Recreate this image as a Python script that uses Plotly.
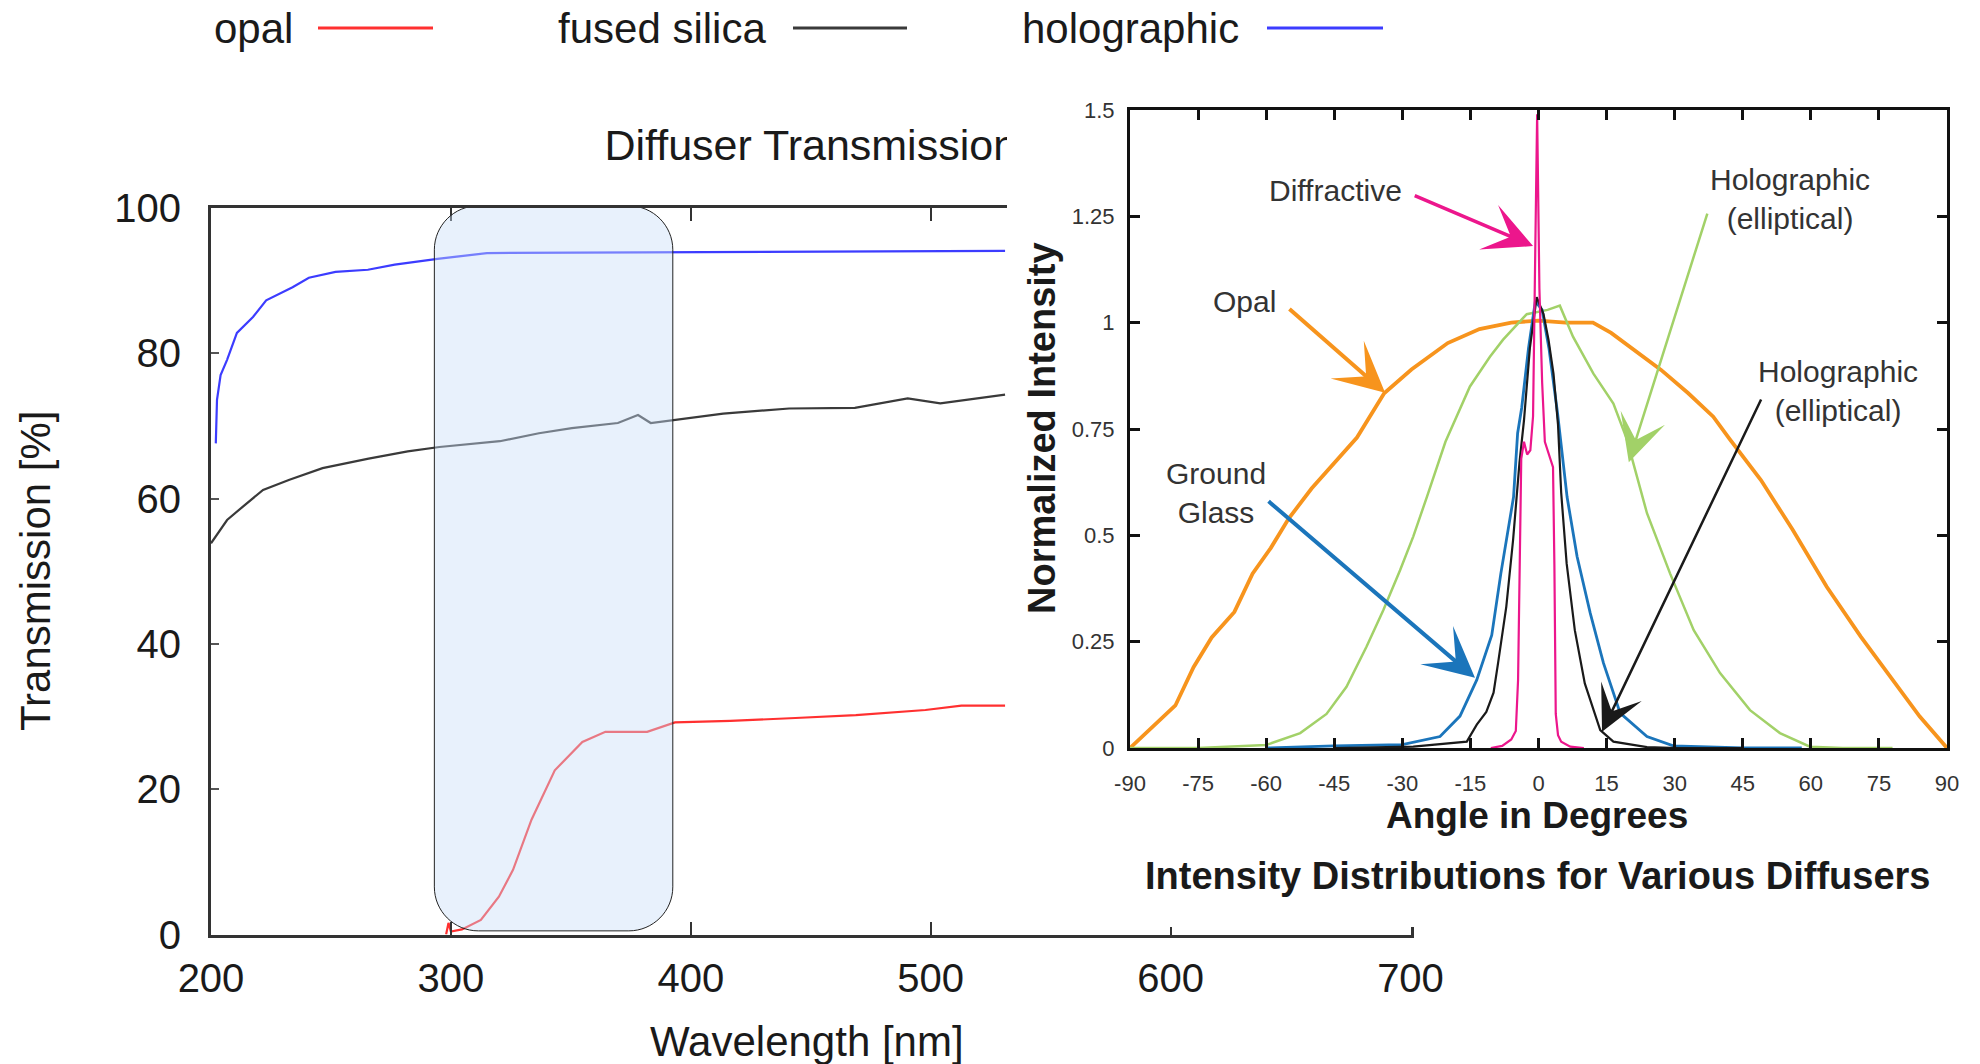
import plotly.graph_objects as go

# ---------------- data: left chart (Diffuser Transmission) ----------------
opal_wl = [298, 299, 300, 304.6, 312.5, 320, 325.9, 333.6, 343.3, 354.8, 364.4, 381.8, 393.4, 416.5, 443.6, 468.8, 497.8, 512.8, 531]
opal_tr = [0.0, 1.6, 0.4, 0.7, 2.0, 5.2, 8.9, 15.8, 22.6, 26.5, 27.9, 27.9, 29.2, 29.4, 29.8, 30.2, 30.9, 31.5, 31.5]

silica_wl = [200, 206.7, 213.3, 221.7, 232.7, 246.5, 265.7, 282, 295.2, 320.4, 336.7, 350.4, 369.6, 378, 383.3, 395.8, 413.5, 441, 468.4, 490.4, 504, 531]
silica_tr = [53.85, 57.05, 58.9, 61.2, 62.6, 64.2, 65.5, 66.5, 67.1, 67.9, 69.0, 69.7, 70.4, 71.5, 70.4, 70.9, 71.7, 72.4, 72.5, 73.8, 73.1, 74.3]

holo_wl = [202, 202.5, 204, 206.7, 210.8, 217.5, 223, 234, 240.8, 251.9, 265.4, 276.6, 294.4, 304, 315, 380, 439.6, 531]
holo_tr = [67.6, 73.6, 77.0, 79.1, 82.8, 85.0, 87.3, 89.1, 90.4, 91.2, 91.5, 92.2, 93.0, 93.4, 93.8, 93.9, 94.0, 94.1]

series_names = ["opal", "fused silica", "holographic"]
series_colors = ["#ff3030", "#3a3a3a", "#3c3cff"]

left_title = "Diffuser Transmission"
highlight_wl = [293.1, 392.5]     # shaded UV band
highlight_tr = [0.5, 100.3]

# ---------------- data: inset (Intensity Distributions) ----------------
opal_ang = [-90, -85, -80, -76, -72, -67, -63, -59, -55, -50, -45, -40, -34, -28, -20, -13, -6, 0, 6, 12, 16, 21, 27, 33, 38.5, 42, 49, 56, 63.5, 71, 78, 84, 90]
opal_int = [0, 0.05, 0.10, 0.19, 0.26, 0.32, 0.41, 0.47, 0.54, 0.61, 0.67, 0.73, 0.834, 0.89, 0.952, 0.985, 1.0, 1.005, 1.0, 1.0, 0.976, 0.936, 0.889, 0.834, 0.779, 0.728, 0.63, 0.513, 0.379, 0.262, 0.16, 0.074, 0.0]

holoE_ang = [-90, -75, -60, -52.5, -46.7, -42.3, -37.9, -34.2, -30.5, -27.6, -24.6, -20.5, -15.1, -10.7, -7.8, -2.6, 2, 4.7, 7.6, 12.1, 16.5, 19.4, 23.9, 29.0, 34.2, 40.0, 46.6, 53.2, 59.8, 67, 78]
holoE_int = [0, 0.0, 0.007, 0.035, 0.08, 0.144, 0.238, 0.324, 0.418, 0.497, 0.59, 0.72, 0.85, 0.92, 0.96, 1.02, 1.03, 1.04, 0.967, 0.88, 0.81, 0.728, 0.552, 0.41, 0.277, 0.176, 0.089, 0.035, 0.003, 0.0, 0]

ground_ang = [-60, -45, -30, -21.7, -17.3, -13.6, -10.3, -8.3, -5.5, -4.6, -3.7, -2.2, -0.7, 0.8, 2.3, 4.2, 6.3, 8.5, 11.4, 14.3, 18.0, 23.9, 29.7, 45, 58]
ground_int = [0, 0.005, 0.008, 0.027, 0.075, 0.16, 0.265, 0.41, 0.59, 0.74, 0.80, 0.94, 1.05, 1.03, 0.94, 0.787, 0.59, 0.45, 0.317, 0.2, 0.082, 0.027, 0.005, 0.0, 0]

holoN_ang = [-45, -27.6, -15.8, -13.6, -11.5, -9.9, -8.9, -7.1, -5.6, -4.2, -3.2, -1.9, -0.4, 1.1, 2.2, 3.3, 4.3, 5.0, 6.2, 8.0, 10.2, 13.6, 16.5, 23.9, 30.7, 45]
holoN_int = [0, 0.003, 0.015, 0.055, 0.085, 0.13, 0.2, 0.332, 0.489, 0.67, 0.77, 0.94, 1.06, 1.02, 0.96, 0.88, 0.76, 0.6, 0.434, 0.277, 0.152, 0.042, 0.015, 0.002, 0, 0]

diffr_ang = [-10.5, -8, -6, -5, -4.5, -4.2, -3.8, -3.2, -2.5, -1.8, -1.2, -0.8, -0.3, 0.2, 0.8, 1.4, 2.0, 2.6, 3.2, 3.5, 3.8, 4.3, 5, 7, 10]
diffr_int = [0, 0.005, 0.02, 0.04, 0.16, 0.45, 0.68, 0.72, 0.69, 0.70, 0.78, 1.1, 1.49, 1.08, 0.86, 0.72, 0.70, 0.68, 0.66, 0.43, 0.08, 0.03, 0.015, 0.003, 0]

inset_colors = {"opal": "#f7941d", "holoE": "#a2d168", "ground": "#1b75bb", "holoN": "#1a1a1a", "diffr": "#ec168c"}

inset_ticks = [-90, -75, -60, -45, -30, -15, 0, 15, 30, 45, 60, 75, 90]
inset_ticklabels = ["-90", "-75", "-60", "-45", "-30", "-15", "0", "15", "30", "45", "60", "75", "90"]
inset_yticks = [0, 0.25, 0.5, 0.75, 1, 1.25, 1.5]
inset_ylabels = ["0", "0.25", "0.5", "0.75", "1", "1.25", "1.5"]

# callouts: (text, text_x, text_y, tail_x, tail_y, tip_x, tip_y, colour, arrow width, head size)
callouts = [
    ("Diffractive", -44.8, 1.31, -27.6, 1.30, -1.2, 1.18, "diffr", 3.5, 2.3),
    ("Opal", -64.7, 1.049, -55.2, 1.035, -33.8, 0.835, "opal", 4, 2.1),
    ("Holographic<br>(elliptical)", 55.4, 1.291, 37.3, 1.26, 19.9, 0.672, "holoE", 2.5, 3.1),
    ("Holographic<br>(elliptical)", 66.0, 0.839, 49.2, 0.823, 14.0, 0.038, "holoN", 2.5, 3.0),
    ("Ground<br>Glass", -71.0, 0.60, -59.8, 0.583, -14.0, 0.165, "ground", 4, 2.1),
]

FONT = "Liberation Sans, Arial, Helvetica, sans-serif"
W, H = 1980, 1064

def px(xp):
    return xp / W

def py(yp):
    return 1 - yp / H

fig = go.Figure()

# left chart traces
for name, xs, ys, col in zip(series_names, [opal_wl, silica_wl, holo_wl], [opal_tr, silica_tr, holo_tr], series_colors):
    fig.add_trace(go.Scatter(x=xs, y=ys, mode="lines", name=name, line=dict(color=col, width=2.2),
                             xaxis="x", yaxis="y", showlegend=False))

# left chart title: text in its own strip subplot, so the pasted inset can cover its tail
fig.add_trace(go.Scatter(x=[450], y=[0.5], mode="text", text=[left_title],
                         textfont=dict(family=FONT, size=43, color="#1a1a1a"), cliponaxis=False,
                         xaxis="x2", yaxis="y2", showlegend=False, hoverinfo="skip"))

# blank subplot = white backing of the pasted inset
fig.add_trace(go.Scatter(x=[], y=[], xaxis="x3", yaxis="y3", showlegend=False, hoverinfo="skip"))

# inset traces
inset_series = [("opal", opal_ang, opal_int, 3.8), ("holoE", holoE_ang, holoE_int, 2.5),
                ("ground", ground_ang, ground_int, 2.8), ("holoN", holoN_ang, holoN_int, 2.2),
                ("diffr", diffr_ang, diffr_int, 2.2)]
for key, xs, ys, w in inset_series:
    fig.add_trace(go.Scatter(x=xs, y=ys, mode="lines", line=dict(color=inset_colors[key], width=w),
                             xaxis="x4", yaxis="y4", showlegend=False))

# domains (pixel based)
left_dom_x = [px(211), px(1410.5)]
left_dom_y = [py(934.5), py(208)]
title_dom_y = [py(176), py(123)]
cover_dom_x = [px(1007), 1.0]
cover_dom_y = [py(927), py(85)]
inset_dom_x = [px(1130), px(1947)]
inset_dom_y = [py(748), py(110)]

axis_common = dict(showgrid=False, zeroline=False, mirror="ticks", showline=True, ticks="inside", automargin=False)
hidden = dict(visible=False, automargin=False, showgrid=False, zeroline=False)

fig.update_layout(
    template="none",
    width=W, height=H,
    margin=dict(l=0, r=0, t=0, b=0, pad=0),
    paper_bgcolor="white", plot_bgcolor="white",
    showlegend=False,
    font=dict(family=FONT, color="#1a1a1a"),
    xaxis=dict(domain=left_dom_x, anchor="y", range=[200, 700], dtick=100, tick0=200,
               linecolor="#333", linewidth=3, tickcolor="#333", ticklen=13, tickwidth=2,
               tickfont=dict(size=40, color="#1a1a1a"), ticklabelstandoff=6, **axis_common),
    yaxis=dict(domain=left_dom_y, anchor="x", range=[0, 100], dtick=20,
               linecolor="#333", linewidth=3, tickcolor="#555", ticklen=8, tickwidth=2,
               tickfont=dict(size=40, color="#1a1a1a"), ticklabelstandoff=19, **axis_common),
    xaxis2=dict(domain=left_dom_x, anchor="y2", range=[200, 700], **hidden),
    yaxis2=dict(domain=title_dom_y, anchor="x2", range=[0, 1], **hidden),
    xaxis3=dict(domain=cover_dom_x, anchor="y3", range=[0, 1], **hidden),
    yaxis3=dict(domain=cover_dom_y, anchor="x3", range=[0, 1], **hidden),
    xaxis4=dict(domain=inset_dom_x, anchor="y4", range=[-90, 90], tickvals=inset_ticks, ticktext=inset_ticklabels,
                linecolor="#111", linewidth=3, tickcolor="#111", ticklen=10, tickwidth=2.5,
                tickfont=dict(size=22, color="#333"), ticklabelstandoff=14, **axis_common),
    yaxis4=dict(domain=inset_dom_y, anchor="x4", range=[0, 1.5], tickvals=inset_yticks, ticktext=inset_ylabels,
                linecolor="#111", linewidth=3, tickcolor="#111", ticklen=10, tickwidth=2.5,
                tickfont=dict(size=22, color="#333"), ticklabelstandoff=8, **axis_common),
)

# rounded highlight band on the left chart
x0, x1 = highlight_wl
y0, y1 = highlight_tr
rx, ry = 44 / 2.4, 44 / 7.265
k = 0.5523
path = (f"M {x0+rx},{y0} L {x1-rx},{y0} "
        f"C {x1-rx+k*rx},{y0} {x1},{y0+ry-k*ry} {x1},{y0+ry} "
        f"L {x1},{y1-ry} C {x1},{y1-ry+k*ry} {x1-rx+k*rx},{y1} {x1-rx},{y1} "
        f"L {x0+rx},{y1} C {x0+rx-k*rx},{y1} {x0},{y1-ry+k*ry} {x0},{y1-ry} "
        f"L {x0},{y0+ry} C {x0},{y0+ry-k*ry} {x0+rx-k*rx},{y0} {x0+rx},{y0} Z")
fig.add_shape(type="path", path=path, xref="x", yref="y", layer="above",
              fillcolor="rgba(200,222,248,0.42)", line=dict(color="#222", width=1))

annotations = []

# legend (text followed by line sample)
legend_text_x = [212, 556, 1020]
legend_line_x = [(318, 433), (793, 907), (1267, 1383)]
for name, col, tx, (lx0, lx1) in zip(series_names, series_colors, legend_text_x, legend_line_x):
    annotations.append(dict(text=name, x=px(tx), y=py(29), xref="paper", yref="paper", xanchor="left",
                            yanchor="middle", showarrow=False, font=dict(size=42, color="#1a1a1a")))
    fig.add_shape(type="line", xref="paper", yref="paper", x0=px(lx0), x1=px(lx1), y0=py(28), y1=py(28),
                  line=dict(color=col, width=3))

centered = dict(xref="paper", yref="paper", xanchor="center", yanchor="middle", showarrow=False)

# left axis titles
annotations.append(dict(text="Transmission [%]", x=px(35), y=py(571), textangle=-90,
                        font=dict(size=42, color="#1a1a1a"), **centered))
annotations.append(dict(text="Wavelength [nm]", x=px(807), y=py(1041),
                        font=dict(size=42, color="#1a1a1a"), **centered))

# inset titles
bold = dict(family=FONT, color="#1a1a1a", weight="bold")
annotations.append(dict(text="Normalized Intensity", x=px(1042), y=py(428), textangle=-90,
                        font=dict(size=38, **bold), **centered))
annotations.append(dict(text="Angle in Degrees", x=px(1537), y=py(815),
                        font=dict(size=37, **bold), **centered))
annotations.append(dict(text="Intensity Distributions for Various Diffusers", x=px(1537), y=py(876),
                        font=dict(size=38, **bold), **centered))

# inset callouts
for text, tx, ty, ax_, ay_, x_, y_, key, aw, hs in callouts:
    annotations.append(dict(text=text, x=tx, y=ty, xref="x4", yref="y4", showarrow=False,
                            xanchor="center", yanchor="middle", font=dict(size=30, color="#333")))
    annotations.append(dict(text="", x=x_, y=y_, ax=ax_, ay=ay_, xref="x4", yref="y4", axref="x4", ayref="y4",
                            showarrow=True, arrowhead=3, arrowsize=hs, arrowwidth=aw,
                            arrowcolor=inset_colors[key]))

fig.update_layout(annotations=annotations)

fig.write_html("out.html")
